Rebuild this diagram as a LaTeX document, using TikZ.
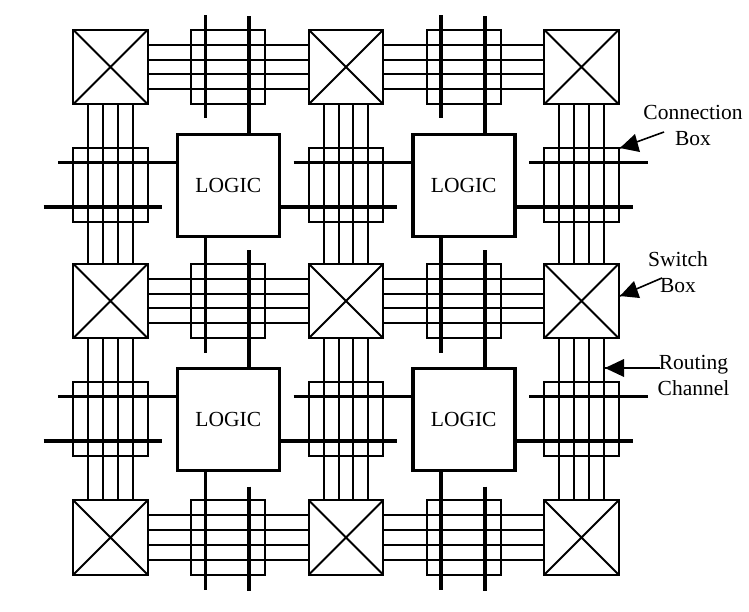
\documentclass[tikz,border=0pt]{standalone}
\usepackage{fontspec}
\setmainfont{Liberation Serif}
\begin{document}
\begin{tikzpicture}[x=1pt,y=-1pt,
  sbox/.style={draw,line width=2.2pt,minimum size=74.5pt,inner sep=0pt,outer sep=0pt},
  cbox/.style={draw,line width=1.8pt,minimum size=74.5pt,inner sep=0pt,outer sep=0pt},
  logicbox/.style={draw,fill=white,line width=3.6pt,minimum size=102pt,inner sep=0pt,outer sep=0pt,font=\fontsize{21.5}{26}\selectfont},
  wire/.style={line width=2pt},
  thick wire/.style={line width=3.6pt},
  diag/.style={line width=1.9pt},
  lab/.style={font=\fontsize{21.5}{26}\selectfont,align=center,inner sep=0pt},
  pointer/.style={line width=1.6pt}]
\useasboundingbox (0,0) rectangle (749,611);
% switch boxes, vertical and horizontal connection boxes
\foreach \c/\x in {0/110.5,1/346,2/581.5}{
  \foreach \r/\y in {0/67,1/301,2/537.5}{
    \node[sbox] (s\c\r) at (\x,\y) {};
    \draw[diag] (s\c\r.north west)--(s\c\r.south east) (s\c\r.north east)--(s\c\r.south west);
  }
  \foreach \r/\y in {0/185,1/419}{
    \node[cbox] (v\c\r) at (\x,\y) {};
  }
}
\foreach \c/\x in {0/228,1/464}{
  \foreach \r/\y in {0/67,1/301,2/537.5}{
    \node[cbox] (h\c\r) at (\x,\y) {};
  }
}
% routing channels
\foreach \c in {0,1,2}{
  \foreach \r/\n in {0/1,1/2}{
    \foreach \d in {-22.2,-7.4,7.4,22.2}{
      \draw[wire] ([xshift=\d pt]s\c\r.south) -- ([xshift=\d pt]s\c\n.north);
    }
  }
}
\foreach \r in {0,1,2}{
  \foreach \c/\n in {0/1,1/2}{
    \foreach \d in {-22.2,-7.4,7.4,22.2}{
      \draw[wire] ([yshift=\d pt]s\c\r.east) -- ([yshift=\d pt]s\n\r.west);
    }
  }
}
% logic blocks
\foreach \c/\x in {0/228.3,1/463.7}{
  \foreach \r/\y in {0/185.3,1/419.3}{
    \node[logicbox] (l\c\r) at (\x,\y) {LOGIC};
  }
}
% thick tracks: free ends
\foreach \r/\y in {0/162.3,1/396.5}{
  \coordinate (a0\r) at (58,\y);
  \coordinate (a1\r) at (293.5,\y);
  \coordinate (a2\r) at (529,\y);
  \coordinate (b2\r) at (647.5,\y);
}
\foreach \r/\y in {0/206.7,1/440.7}{
  \coordinate (c0\r) at (43.5,\y);
  \coordinate (d0\r) at (162,\y);
  \coordinate (d1\r) at (397,\y);
  \coordinate (d2\r) at (633,\y);
}
\foreach \r in {0,1}{
  \draw[thick wire] (a0\r) -- (a0\r -| l0\r.west);
  \draw[thick wire] (a1\r) -- (a1\r -| l1\r.west);
  \draw[thick wire] (a2\r) -- (b2\r);
  \draw[thick wire] (c0\r) -- (d0\r);
  \draw[thick wire] (d1\r -| l0\r.east) -- (d1\r);
  \draw[thick wire] (d2\r -| l1\r.east) -- (d2\r);
}
% vertical thick tracks
\foreach \c/\xa/\xb in {0/205.5/249,1/441/485}{
  \coordinate (t\c) at (\xa,15);
  \coordinate (u\c) at (\xa,118);
  \coordinate (w\c) at (\xb,16);
  \coordinate (m\c) at (\xa,353);
  \coordinate (n\c) at (\xb,250);
  \coordinate (p\c) at (\xb,486.5);
  \coordinate (q\c) at (\xa,589.5);
  \coordinate (o\c) at (\xb,591);
  \draw[thick wire] (t\c) -- (u\c);
  \draw[thick wire] (w\c) -- (w\c |- l\c0.north);
  \draw[thick wire] (m\c |- l\c0.south) -- (m\c);
  \draw[thick wire] (n\c) -- (n\c |- l\c1.north);
  \draw[thick wire] (q\c |- l\c1.south) -- (q\c);
  \draw[thick wire] (p\c) -- (o\c);
}
% annotations
\node[lab] (conn) at (693,125) {Connection\\Box};
\node[lab] (swit) at (678,272.5) {Switch\\Box};
\node[lab] (rout) at (693.5,375.5) {Routing\\Channel};
\coordinate (cend) at (664,132);
\coordinate (send) at (662,278);
\coordinate (rend) at (660,368);
\coordinate (ctip) at (620,148);
\coordinate (stip) at (620,296);
\coordinate (rtip) at (605,368);
\draw[pointer] (cend) -- (ctip);
\fill (ctip) -- (635,134) -- (640,152) -- cycle;
\draw[pointer] (send) -- (stip);
\fill (stip) -- (634,281) -- (640,298) -- cycle;
\draw[pointer] (rend) -- (rtip);
\fill (rtip) -- (624,359) -- (624,377) -- cycle;
\end{tikzpicture}
\end{document}
